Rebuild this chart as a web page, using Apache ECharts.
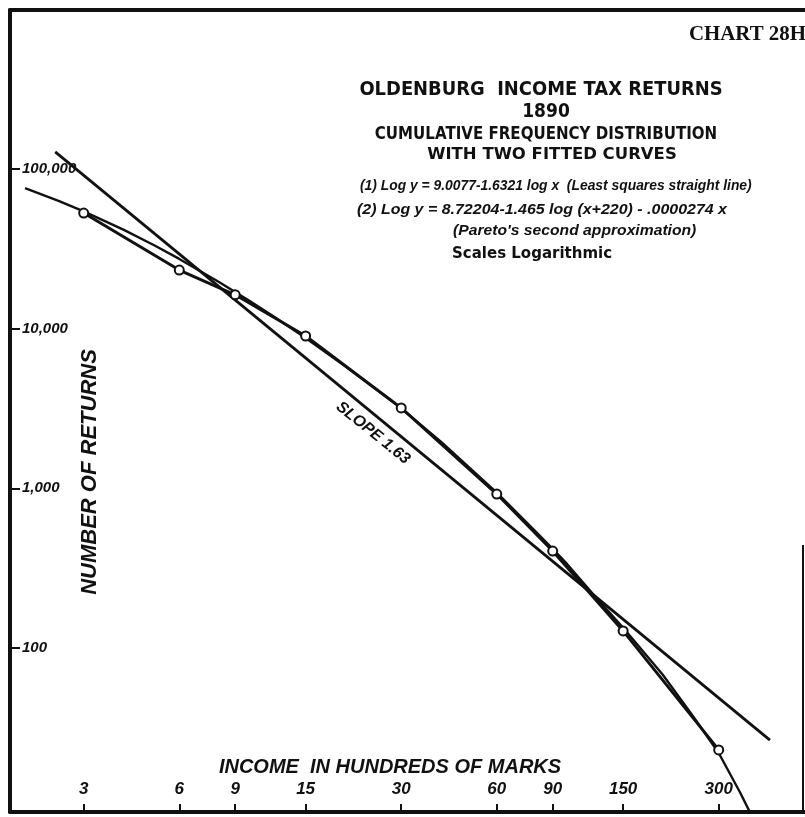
<!DOCTYPE html>
<html><head><meta charset="utf-8">
<script src="https://cdn.jsdelivr.net/npm/echarts@6/dist/echarts.min.js"></script>
<style>html,body{margin:0;padding:0;background:#fff}#c{width:805px;height:817px}</style>
</head><body><div id="c"></div>
<script>
// Observed cumulative frequency: income (hundreds of marks) and number of returns
const incomeObserved = [3, 6, 9, 15, 30, 60, 90, 150, 300];
const returnsObserved = [53000, 23300, 16300, 9000, 3190, 921, 405, 128, 23];
// Fitted curve (1): least squares straight line, read at its drawn ends
const lineIncome = [2.44, 435];
const lineReturns = [128000, 26.5];
// Fitted curve (2): Pareto's second approximation
const curveIncome = [1.96, 2.5, 3, 4, 5, 6, 8, 10, 12, 15, 20, 30, 40, 60, 80, 90, 100, 120, 150, 200, 250, 300, 350, 380];
const curveReturns = [75800, 63200, 54300, 41700, 33300, 27350, 19600, 14900, 11800, 8730, 5820, 3170, 1960, 940, 530, 418, 335, 220, 134, 68, 37, 22, 12.5, 9.0];
// Tick labels
const xTicks = [3, 6, 9, 15, 30, 60, 90, 150, 300];
const yTicks = [100, 1000, 10000, 100000];

const zip = (a, b) => a.map((v, i) => [v, b[i]]);
const chart = echarts.init(document.getElementById('c'), null, {renderer: 'canvas'});
const INK = '#111';
const LAB = '"Liberation Sans", "DejaVu Sans", sans-serif';
const TIT = '"DejaVu Sans", "Liberation Sans", sans-serif';

function txt(text, x, y, font, align, extra) {
  return Object.assign({
    type: 'text', x: x, y: y, z: 10,
    style: {text: text, font: font, fill: INK, textAlign: align || 'center', textVerticalAlign: 'middle'}
  }, extra || {});
}

const option = {
  animation: false,
  backgroundColor: '#fff',
  grid: {left: 10, right: 0, top: 10, bottom: 5, containLabel: false},
  xAxis: [{
    type: 'log', min: 1.758, max: 560.9, position: 'bottom',
    axisLine: {show: true, lineStyle: {color: INK, width: 4}},
    axisTick: {show: true, inside: true, length: 8, lineStyle: {color: INK, width: 2}, customValues: xTicks},
    axisLabel: {show: true, inside: true, margin: 14, customValues: xTicks, color: INK,
      fontFamily: LAB, fontStyle: 'italic', fontWeight: 'bold', fontSize: 17},
    splitLine: {show: false}, minorTick: {show: false}
  }, {
    type: 'log', min: 1.758, max: 560.9, position: 'top',
    axisLine: {show: true, lineStyle: {color: INK, width: 4}},
    axisTick: {show: false}, axisLabel: {show: false}, splitLine: {show: false}
  }],
  yAxis: {
    type: 'log', min: 9.397, max: 990800,
    axisLine: {show: true, lineStyle: {color: INK, width: 4}},
    axisTick: {show: true, inside: true, length: 10, lineStyle: {color: INK, width: 2}, customValues: yTicks},
    axisLabel: {show: true, inside: true, margin: 12, customValues: yTicks, color: INK,
      fontFamily: LAB, fontStyle: 'italic', fontWeight: 'bold', fontSize: 15,
      formatter: v => Number(v).toLocaleString('en-US')},
    splitLine: {show: false}
  },
  series: [{
    name: 'Least squares straight line', type: 'line', data: zip(lineIncome, lineReturns),
    showSymbol: false, symbol: 'none', lineStyle: {color: INK, width: 2.8}, z: 3
  }, {
    name: "Pareto's second approximation", type: 'line', data: zip(curveIncome, curveReturns),
    showSymbol: false, symbol: 'none', lineStyle: {color: INK, width: 2.4}, z: 3
  }, {
    name: 'Observed', type: 'line', data: zip(incomeObserved, returnsObserved),
    symbol: 'circle', symbolSize: 9, showSymbol: true,
    itemStyle: {color: '#fff', borderColor: INK, borderWidth: 2},
    lineStyle: {color: INK, width: 3}, z: 4
  }],
  graphic: [
    txt('CHART 28H', 806, 34, 'bold 22px "Liberation Serif", serif', 'right', {scaleX: 0.95}),
    txt('OLDENBURG  INCOME TAX RETURNS', 541, 90, 'bold 20px ' + TIT, 'center', {scaleX: 0.895}),
    txt('1890', 546, 112, 'bold 19px ' + TIT, 'center', {scaleX: 0.9}),
    txt('CUMULATIVE FREQUENCY DISTRIBUTION', 546, 135, 'bold 17px ' + TIT, 'center', {scaleX: 0.886}),
    txt('WITH TWO FITTED CURVES', 552, 155, 'bold 16.5px ' + TIT),
    txt('(1) Log y = 9.0077-1.6321 log x  (Least squares straight line)', 360, 186, 'italic bold 14px ' + LAB, 'left', {scaleX: 0.99}),
    txt('(2) Log y = 8.72204-1.465 log (x+220) - .0000274 x', 357, 210, 'italic bold 14px ' + LAB, 'left', {scaleX: 1.14}),
    txt("(Pareto's second approximation)", 453, 231, 'italic bold 14px ' + LAB, 'left', {scaleX: 1.12}),
    txt('Scales Logarithmic', 452, 254, 'bold 15px ' + TIT, 'left'),
    txt('NUMBER OF RETURNS', 90, 472, 'italic bold 22px ' + LAB, 'center', {rotation: Math.PI / 2}),
    txt('INCOME  IN HUNDREDS OF MARKS', 390, 767, 'italic bold 20px ' + LAB),
    txt('SLOPE 1.63', 373, 433, 'italic bold 16px ' + LAB, 'center', {rotation: -0.68}),
    {type: 'line', z: 10, shape: {x1: 803, y1: 545, x2: 803, y2: 812}, style: {stroke: INK, lineWidth: 2}}
  ]
};
chart.setOption(option);
</script></body></html>
